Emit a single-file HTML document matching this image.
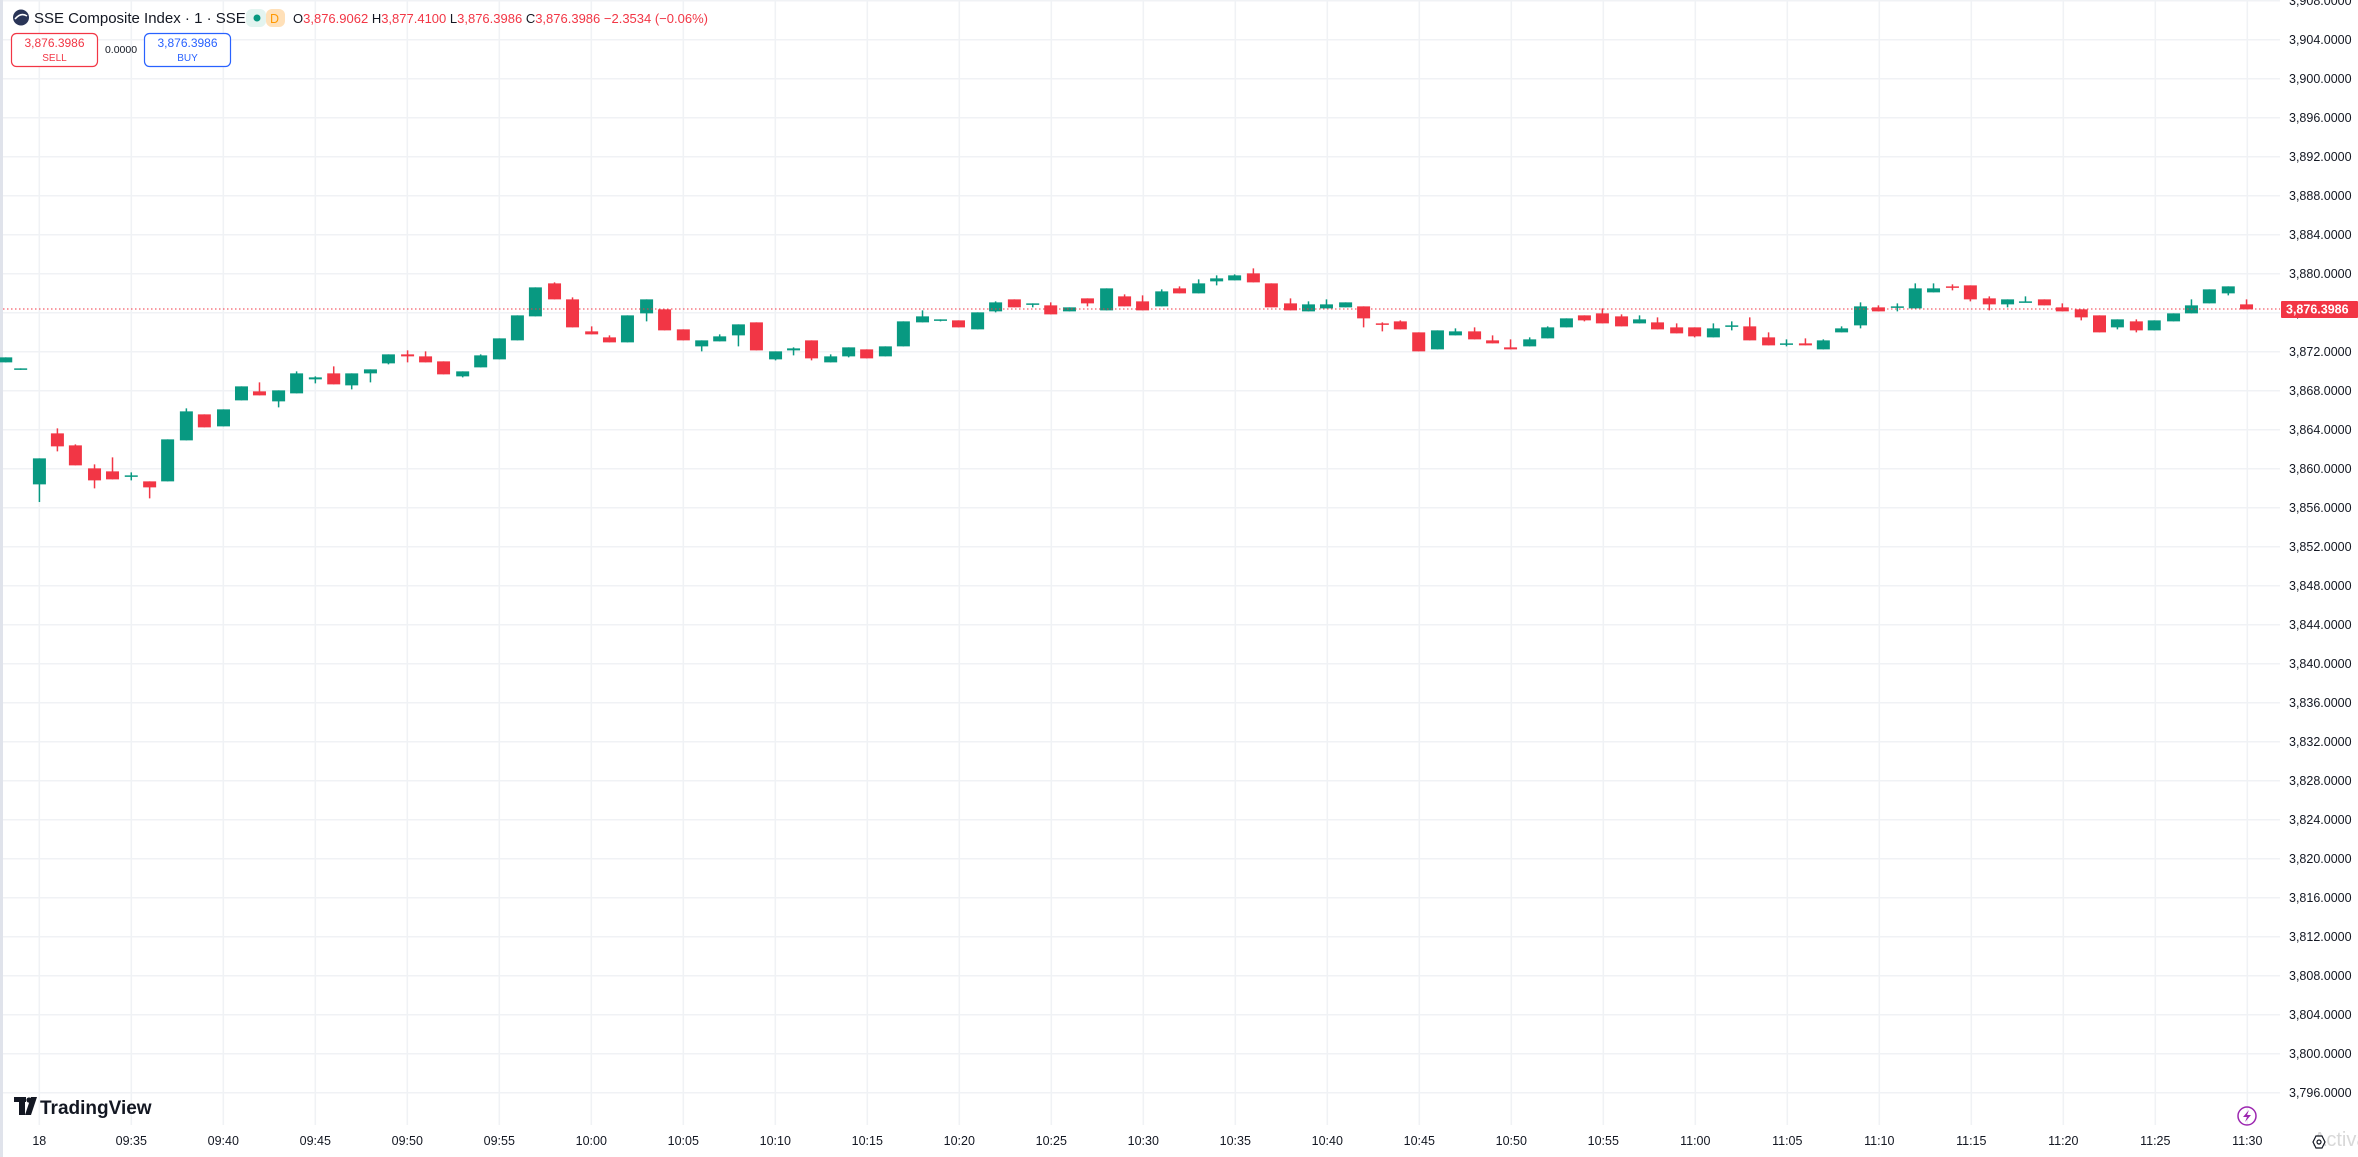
<!DOCTYPE html>
<html><head><meta charset="utf-8"><style>
html,body{margin:0;padding:0;background:#fff;}
body{width:2358px;height:1157px;overflow:hidden;position:relative;font-family:"Liberation Sans",sans-serif;}
svg{position:absolute;left:0;top:0;}
</style></head><body>
<svg id="c" width="2358" height="1157" xmlns="http://www.w3.org/2000/svg"></svg>
<script>
const NS="http://www.w3.org/2000/svg";
const svg=document.getElementById('c');
function el(t,a,txt){const e=document.createElementNS(NS,t);for(const k in a)e.setAttribute(k,a[k]);if(txt!==undefined)e.textContent=txt;svg.appendChild(e);return e;}
const G='#089981',R='#f23645';
// left strip
el('rect',{x:0,y:0,width:3,height:1157,fill:'#e0e3eb'});
// grid
for(let k=0;k<=24;k++){const x=39.3+92*k;el('line',{x1:x,y1:0,x2:x,y2:1125,stroke:'#f0f2f5','stroke-width':1.5});}
for(let k=0;k<=28;k++){const y=0.7+39*k;el('line',{x1:3,y1:y,x2:2280,y2:y,stroke:'#f0f2f5','stroke-width':1.5});}
// price labels
for(let k=0;k<=28;k++){const y=0.7+39*k;const p=3908-4*k;
 const s=p.toString();const t=s[0]+','+s.slice(1)+'.0000';
 el('text',{x:2289,y:y+4.5,'font-size':12.5,fill:'#131722'},t);}
// time labels
const tl=['18','09:35','09:40','09:45','09:50','09:55','10:00','10:05','10:10','10:15','10:20','10:25','10:30','10:35','10:40','10:45','10:50','10:55','11:00','11:05','11:10','11:15','11:20','11:25','11:30'];
tl.forEach((t,k)=>el('text',{x:39.3+92*k,y:1145,'font-size':12.5,fill:'#131722','text-anchor':'middle'},t));
// candles data: [xz, bt, bb, wt, wb, color] per zoom
const z4=[[15,294,309,294,309,G],[54,327,329,327,329,G],[103,597,675,597,728,G],[150,522,561,507,576,R],[197,558,618,555,618,R],[247,627,663,615,687,R],[294,636,660,594,660,R],[343,648,650,639,663,G],[391,666,684,666,717,R],[438,540,666,540,666,G],[487,456,543,447,543,G],[534,465,504,465,504,R],[584,450,501,450,501,G],[631,381,423,381,423,G],[678,396,408,369,408,R],[728,393,426,393,444,G],[775,342,402,336,402,G],[824,354,360,351,372,G],[872,342,375,321,375,R],[919,342,378,342,390,G],[968,330,342,330,369,G],[1015,285,312,285,315,G],[1065,285,291,273,309,R],[1112,291,309,276,309,R],[1159,306,345,306,345,R],[1209,336,351,336,354,G],[1256,288,324,285,324,G],[1305,237,300,237,300,G],[1352,168,243,168,243,G],[1399,84,171,84,171,G],[1449,72,120,69,120,R],[1496,120,204,114,204,R],[1546,216,225,201,225,R]];
const z5=[[77,234,249,228,249,R],[124,168,249,168,249,G],[174,120,162,120,186,G],[221,150,213,150,213,R],[270,210,243,210,243,R],[318,243,261,243,276,G],[365,231,246,225,246,G],[414,195,228,195,261,G],[461,189,273,189,273,R],[511,276,300,276,303,G],[558,267,273,264,288,G],[605,243,297,243,303,R],[655,291,309,285,309,G],[702,264,291,264,294,G],[749,270,297,270,297,R],[798,261,291,261,291,G],[845,186,261,186,261,G],[895,171,189,153,189,G],[942,180,183,180,186,G],[989,183,204,183,204,R],[1039,159,210,159,210,G],[1086,129,156,126,159,G],[1135,120,144,120,144,R],[1183,132,135,132,144,G],[1230,138,165,129,165,R],[1279,144,156,144,156,G],[1326,117,132,117,141,R],[1376,87,153,87,153,G],[1423,111,141,105,141,R],[1470,126,153,108,153,R],[1520,96,141,90,141,G]];
const z6=[[51,87,102,81,102,R],[101,72,102,60,102,G],[148,57,66,48,78,G],[195,48,63,45,63,G],[244,42,69,27,69,R],[291,72,144,72,144,R],[341,132,153,117,153,R],[388,135,156,126,156,G],[435,135,147,120,147,G],[485,129,144,129,144,G],[532,141,177,141,204,R],[581,192,194,189,216,R],[628,186,210,183,210,R],[676,219,276,219,276,R],[725,213,270,213,270,G],[772,216,228,207,228,G],[822,216,240,204,240,R],[869,243,252,228,252,R],[916,264,270,240,270,R],[966,240,261,234,261,G],[1013,204,237,201,237,G],[1062,177,204,177,204,G],[1109,168,183,168,186,R],[1156,162,192,147,192,R],[1206,171,201,165,201,R],[1253,180,192,168,192,G],[1300,189,210,174,210,R],[1350,204,222,192,222,R],[1397,204,231,204,234,R],[1446,207,234,192,234,G],[1494,198,200,186,213,G],[1541,201,243,174,243,R]];
const z7=[[83,234,258,219,258,R],[135,252,254,240,261,G],[190,252,258,237,258,R],[242,243,270,240,270,G],[295,207,219,201,219,G],[350,141,198,129,207,G],[402,144,156,138,156,R],[457,141,144,132,156,G],[509,87,147,72,147,G],[562,87,99,72,99,G],[617,81,84,75,93,R],[669,78,120,78,126,R],[724,117,135,111,153,R],[777,120,135,120,144,G],[829,126,129,111,129,G],[884,120,138,120,138,R],[936,144,156,132,156,R],[991,150,174,150,183,R],[1044,168,219,168,219,R],[1096,180,204,180,210,G],[1151,186,213,180,219,R],[1203,183,213,183,213,G],[1259,162,186,162,186,G],[1311,138,162,120,162,G],[1363,90,132,90,132,G],[1418,81,102,81,108,G],[1471,135,150,120,150,R]];
const Y=v=>273.7+(v-43)/3;
function draw(arr,x0,s){arr.forEach(c=>{const x=x0+c[0]/s;const bt=Y(c[1]),bb=Y(c[2]),wt=Y(c[3]),wb=Y(c[4]);
 el('rect',{x:x-0.75,y:wt,width:1.5,height:Math.max(wb-wt,1.5),fill:c[5]});
 el('rect',{x:x-6.5,y:bt,width:13,height:Math.max(bb-bt,1.5),fill:c[5]});});}
draw(z4,0,2.613);draw(z5,580,2.613);draw(z6,1160,2.613);draw(z7,1740,2.904);
// current price line
el('line',{x1:3,y1:309,x2:2280,y2:309,stroke:R,'stroke-width':1,'stroke-dasharray':'1.5 2.5'});
el('rect',{x:2281,y:301,width:77,height:17,fill:R,rx:1});
el('text',{x:2286,y:313.5,'font-size':12.5,fill:'#fff','font-weight':'bold'},'3,876.3986');
// header
el('circle',{cx:21,cy:17.5,r:8,fill:'#2a3557'});
el('path',{d:'M15 19 Q21 12 27 16',stroke:'#fff','stroke-width':1.5,fill:'none'});
el('text',{x:34,y:23,'font-size':15,fill:'#131722'},'SSE Composite Index · 1 · SSE');
el('rect',{x:246,y:9,width:20,height:18,fill:'#e3f4f0',rx:6});
el('circle',{cx:257,cy:18,r:3.5,fill:G});
el('rect',{x:266,y:9,width:19,height:18,fill:'#ffe0b8',rx:6});
el('text',{x:270,y:23,'font-size':12.5,fill:'#ff9800'},'D');
const t=el('text',{x:293,y:23,'font-size':13,fill:R});
[['O','3,876.9062 '],['H','3,877.4100 '],['L','3,876.3986 '],['C','3,876.3986 ']].forEach(p=>{const a=document.createElementNS(NS,'tspan');a.setAttribute('fill','#131722');a.textContent=p[0];t.appendChild(a);const b=document.createElementNS(NS,'tspan');b.textContent=p[1];t.appendChild(b);});
const b2=document.createElementNS(NS,'tspan');b2.textContent='−2.3534 (−0.06%)';t.appendChild(b2);
// sell/buy
el('rect',{x:11.5,y:33.5,width:86,height:33,rx:5,fill:'#fff',stroke:R,'stroke-width':1.2});
el('text',{x:54.5,y:47,'font-size':12,fill:R,'text-anchor':'middle'},'3,876.3986');
el('text',{x:54.5,y:61,'font-size':10,fill:R,'text-anchor':'middle'},'SELL');
el('text',{x:121,y:53,'font-size':10.5,fill:'#131722','text-anchor':'middle'},'0.0000');
el('rect',{x:144.5,y:33.5,width:86,height:33,rx:5,fill:'#fff',stroke:'#2962ff','stroke-width':1.2});
el('text',{x:187.5,y:47,'font-size':12,fill:'#2962ff','text-anchor':'middle'},'3,876.3986');
el('text',{x:187.5,y:61,'font-size':10,fill:'#2962ff','text-anchor':'middle'},'BUY');
// logo
el('rect',{x:14,y:1097,width:12,height:5,fill:'#131722'});
el('rect',{x:19,y:1097,width:6,height:18,fill:'#131722'});
el('circle',{cx:29,cy:1100,r:2.6,fill:'#131722'});
el('path',{d:'M31 1097 L37 1097 L31 1115 L25 1115 Z',fill:'#131722'});
el('text',{x:40,y:1114,'font-size':19,'font-weight':'bold',fill:'#131722'},'TradingView');
// bottom icons
el('circle',{cx:2247,cy:1116,r:9,fill:'none',stroke:'#9c27b0','stroke-width':1.5});
el('path',{d:'M2249 1110 L2243 1117 L2247 1117 L2245 1122 L2251 1115 L2247 1115 Z',fill:'#9c27b0'});
el('text',{x:2313,y:1146,'font-size':20,fill:'#d8d8d8'},'Activa');
el('polygon',{points:'2313,1142 2316,1136 2322,1136 2325,1142 2322,1148 2316,1148',fill:'#fff',stroke:'#131722','stroke-width':1.2});
el('circle',{cx:2319,cy:1142,r:2,fill:'none',stroke:'#131722','stroke-width':1.2});
</script>
</body></html>
